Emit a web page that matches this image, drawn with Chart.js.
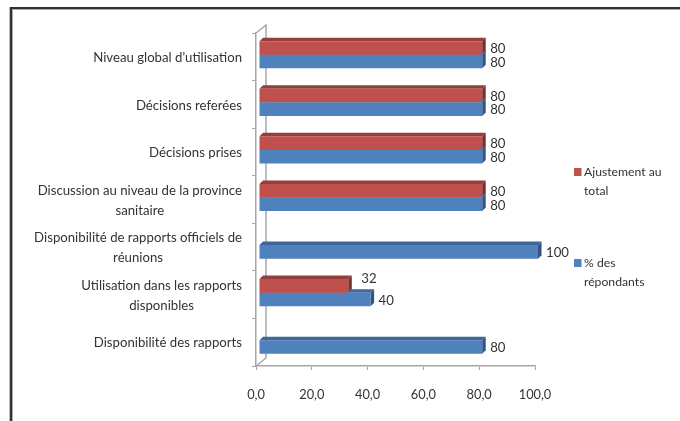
<!DOCTYPE html>
<html>
<head>
<meta charset="utf-8">
<script src="https://cdn.jsdelivr.net/npm/chart.js@4"></script>
<style>
  html, body { margin: 0; padding: 0; background: #fff; }
  #wrap { width: 680px; height: 421px; position: relative; overflow: hidden; }
  #myChart { filter: blur(0.4px); }
  #frame { position: absolute; left: 10px; top: 7px; width: 680px; height: 430px; box-sizing: border-box; border: solid #333; border-width: 2px 0 0 2px; box-shadow: inset 1px 1px 0 #aaa, -1px 0 0 #bbb; }
</style>
</head>
<body>
<div id="wrap">
  <canvas id="myChart" width="680" height="421"></canvas>
  <div id="frame"></div>
</div>
<script>
const categories = [
  "Niveau global d'utilisation",
  "Décisions referées",
  "Décisions prises",
  ["Discussion au niveau de la province", "sanitaire"],
  ["Disponibilité de rapports officiels de", "réunions"],
  ["Utilisation dans les rapports", "disponibles"],
  "Disponibilité des rapports",
];
const ajustement = [80, 80, 80, 80, null, 32, null];
const repondants = [80, 80, 80, 80, 100, 40, 80];
const xTicks = [0, 20, 40, 60, 80, 100];
const seriesNames = [["Ajustement au", "total"], ["% des", "répondants"]];

const TEXT = "#333";
const AXIS = "#a6a6a6";

// bars sit a little inside the 3d box, so shift them off the axis plane
const shiftX = 3, shiftY = -2, depth = 3.5;

const bars3d = {
  id: "bars3d",
  beforeDatasetsDraw(chart) {
    const { ctx } = chart;
    ctx.save();
    ctx.translate(shiftX, shiftY);
    chart.data.datasets.forEach((ds, i) => {
      chart.getDatasetMeta(i).data.forEach((bar, j) => {
        if (ds.data[j] == null) return;
        const { x, y, base, height } = bar.getProps(["x", "y", "base", "height"]);
        const top = y - height / 2, bottom = y + height / 2;
        ctx.fillStyle = ds.topColor;
        ctx.beginPath();
        ctx.moveTo(base, top);
        ctx.lineTo(base + depth, top - depth);
        ctx.lineTo(x + depth, top - depth);
        ctx.lineTo(x, top);
        ctx.fill();
        ctx.fillStyle = ds.sideColor;
        ctx.beginPath();
        ctx.moveTo(x, top);
        ctx.lineTo(x + depth, top - depth);
        ctx.lineTo(x + depth, bottom - depth);
        ctx.lineTo(x, bottom);
        ctx.fill();
      });
    });
  },
  afterDatasetsDraw(chart) {
    chart.ctx.restore();
  },
};

const extras = {
  id: "extras",
  beforeDraw(chart) {
    // walls of the 3d box
    const { ctx, chartArea: a } = chart;
    ctx.save();
    ctx.strokeStyle = AXIS;
    ctx.lineWidth = 1.5;
    ctx.beginPath();
    ctx.moveTo(a.left, a.top);
    ctx.lineTo(a.left + 10, a.top - 8);
    ctx.lineTo(a.left + 10, a.bottom - 8);
    ctx.lineTo(a.left, a.bottom);
    ctx.stroke();
    ctx.restore();
  },
  afterDraw(chart) {
    const { ctx, scales } = chart;
    ctx.save();
    ctx.font = "13.2px Lato";
    ctx.fillStyle = TEXT;
    ctx.textBaseline = "middle";

    // category labels, lines centred in their block
    ctx.textAlign = "center";
    categories.forEach((label, i) => {
      const lines = Array.isArray(label) ? label : [label];
      const w = Math.max(...lines.map((l) => ctx.measureText(l).width));
      const y = scales.y.getPixelForValue(i) + 1;
      lines.forEach((l, k) => {
        ctx.fillText(l, 242 - w / 2, y + (k - (lines.length - 1) / 2) * 20);
      });
    });

    // value labels, the 32 sits up and away from its bar in the original
    ctx.textAlign = "left";
    chart.data.datasets.forEach((ds, i) => {
      chart.getDatasetMeta(i).data.forEach((bar, j) => {
        if (ds.data[j] == null) return;
        const odd = ds.data[j] === 32;
        ctx.fillText(ds.data[j], bar.x + shiftX + 8 + (odd ? 5 : 0), bar.y + shiftY + 1 - (odd ? 8 : 0));
      });
    });

    // legend
    ctx.font = "12.2px Lato";
    const legendY = [172, 263];
    chart.data.datasets.forEach((ds, i) => {
      ctx.fillStyle = ds.backgroundColor;
      ctx.fillRect(574, legendY[i] - 4, 7.5, 8);
      ctx.fillStyle = TEXT;
      seriesNames[i].forEach((l, k) => ctx.fillText(l, 584, legendY[i] + k * 19));
    });
    ctx.restore();
  },
};

new Chart(document.getElementById("myChart"), {
  type: "bar",
  data: {
    labels: categories,
    datasets: [
      { label: seriesNames[0].join(" "), data: ajustement, backgroundColor: "#C0504D", topColor: "#93403d", sideColor: "#7a2e2b", barPercentage: 1, categoryPercentage: 0.57 },
      { label: seriesNames[1].join(" "), data: repondants, backgroundColor: "#4F81BD", topColor: "#3f6797", sideColor: "#2f5485", barPercentage: 1, categoryPercentage: 0.57 },
    ],
  },
  options: {
    indexAxis: "y",
    responsive: false,
    animation: false,
    layout: { padding: { top: 33, right: 145 } },
    plugins: { legend: { display: false }, tooltip: { enabled: false } },
    scales: {
      x: {
        min: 0,
        max: 100,
        afterFit: (s) => { s.height = 55; },
        afterBuildTicks: (s) => { s.ticks = xTicks.map((value) => ({ value })); },
        border: { color: AXIS, width: 1.5 },
        grid: { drawOnChartArea: false, color: AXIS, tickLength: 4 },
        ticks: {
          autoSkip: false,
          maxRotation: 0,
          padding: 17,
          color: TEXT,
          font: { family: "Lato", size: 12.8 },
          callback: (v) => v.toFixed(1).replace(".", ","),
        },
      },
      y: {
        afterFit: (s) => { s.width = 256; },
        border: { color: AXIS, width: 1.5 },
        grid: { drawOnChartArea: false, color: AXIS, tickLength: 4 },
        ticks: { display: false },
      },
    },
  },
  plugins: [extras, bars3d],
});
</script>
</body>
</html>
